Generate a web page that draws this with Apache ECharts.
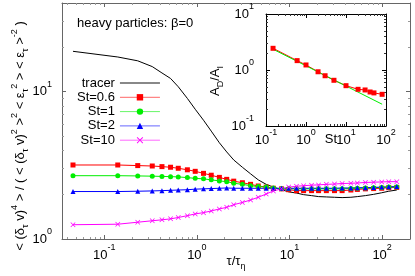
<!DOCTYPE html>
<html><head><meta charset="utf-8">
<script src="https://cdn.jsdelivr.net/npm/echarts@6/dist/echarts.min.js"></script>
<style>html,body{margin:0;padding:0;background:#fff}#c{width:415px;height:276px}</style>
</head><body><div id="c"></div>
<script>
// ---- data ----
const tau = [0.046, 0.14, 0.23, 0.33, 0.42, 0.52, 0.63, 0.79, 0.96, 1.18, 1.43, 1.75, 2.1, 2.5, 3.1, 3.8, 4.6, 5.6, 6.7, 8.2, 9.8, 11.9, 14.2, 17.3, 20.6, 25, 30.6, 37, 46, 54, 66, 81, 99, 118, 144];
const tracer = [18.8, 17.2, 16.2, 14.8, 13.4, 12.3, 10.8, 9.0, 7.6, 6.4, 5.4, 4.5, 3.9, 3.44, 3.07, 2.77, 2.52, 2.35, 2.25, 2.16, 2.09, 2.05, 2.0, 1.97, 1.94, 1.93, 1.92, 1.91, 1.92, 1.94, 1.97, 2.01, 2.06, 2.11, 2.15];
const st06 = [3.18, 3.18, 3.15, 3.13, 3.10, 3.07, 3.02, 2.95, 2.88, 2.79, 2.71, 2.62, 2.54, 2.47, 2.41, 2.35, 2.29, 2.25, 2.21, 2.19, 2.16, 2.13, 2.13, 2.13, 2.13, 2.13, 2.13, 2.13, 2.15, 2.17, 2.19, 2.20, 2.21, 2.23, 2.24];
const st1 = [2.69, 2.69, 2.68, 2.67, 2.66, 2.65, 2.64, 2.61, 2.58, 2.56, 2.52, 2.48, 2.45, 2.39, 2.35, 2.30, 2.27, 2.25, 2.22, 2.19, 2.19, 2.19, 2.19, 2.19, 2.19, 2.19, 2.19, 2.19, 2.20, 2.21, 2.22, 2.23, 2.24, 2.25, 2.25];
const st2 = [2.10, 2.10, 2.11, 2.12, 2.13, 2.14, 2.15, 2.16, 2.18, 2.19, 2.20, 2.21, 2.22, 2.21, 2.21, 2.21, 2.21, 2.21, 2.21, 2.21, 2.21, 2.21, 2.21, 2.21, 2.21, 2.21, 2.21, 2.22, 2.22, 2.23, 2.23, 2.24, 2.25, 2.26, 2.27];
const st10 = [1.25, 1.26, 1.30, 1.33, 1.35, 1.37, 1.40, 1.44, 1.48, 1.51, 1.55, 1.60, 1.64, 1.71, 1.77, 1.84, 1.92, 2.02, 2.12, 2.19, 2.25, 2.28, 2.30, 2.32, 2.33, 2.35, 2.36, 2.38, 2.39, 2.40, 2.42, 2.43, 2.44, 2.45, 2.45];

const insetSt = [0.15, 0.6, 1, 2, 3, 5, 10, 20, 30, 40, 50, 80];
const insetAD = [2.44, 1.47, 1.23, 0.93, 0.79, 0.655, 0.525, 0.452, 0.44, 0.405, 0.39, 0.368];
const fitSt = [0.15, 80];
const fitAD = [2.35, 0.245];

// tick values
const mainXTicks = [0.1, 1, 10, 100];
const mainYTicks = [1, 10];
const mainXMinor = [0.04,0.05,0.06,0.07,0.08,0.09,0.2,0.3,0.4,0.5,0.6,0.7,0.8,0.9,2,3,4,5,6,7,8,9,20,30,40,50,60,70,80,90];
const mainYMinor = [2,3,4,5,6,7,8,9,20,30];
const insetXTicks = [0.1, 1, 10, 100];
const insetYTicks = [0.1, 1, 10];
const insetXMinor = [0.2,0.3,0.4,0.5,0.6,0.7,0.8,0.9,2,3,4,5,6,7,8,9,20,30,40,50,60,70,80,90];
const insetYMinor = [0.2,0.3,0.4,0.5,0.6,0.7,0.8,0.9,2,3,4,5,6,7,8,9];

const FONT = "'Liberation Sans', Arial, Helvetica, sans-serif";
const labRich = {
  b: {fontSize: 13, fontFamily: FONT, color: '#000', lineHeight: 24},
  s: {fontSize: 9, fontFamily: FONT, color: '#000', lineHeight: 9, verticalAlign: 'top'}
};
function powLabel(v) { const e = Math.round(Math.log10(v)); return '{b|10}{s|' + e + '}'; }

function axis(grid, pos, min, max, o) {
  const a = {
    type: 'log', gridIndex: grid, position: pos, min: min, max: max,
    splitLine: {show: false},
    axisLine: {show: !!o.line, onZero: false, lineStyle: {color: o.color, width: 1}},
    axisTick: {show: true, inside: true, length: o.len, customValues: o.ticks, lineStyle: {color: o.color, width: 1}},
    axisLabel: o.labels ? {show: true, customValues: o.ticks, formatter: powLabel, rich: labRich, margin: o.margin} : {show: false}
  };
  return Object.assign(a, o.extra || {});
}

const mainC = '#666', insetC = '#000';
const xAxes = [
  axis(0, 'bottom', 0.035, 200, {line: true, color: mainC, len: 4, ticks: mainXTicks, labels: true, margin: 4,
    extra: {name: '{n|τ/τ}{sub|η}', nameLocation: 'middle', nameGap: 12, nameMoveOverlap: false,
      nameTextStyle: {rich: {n: {fontSize: 13, fontFamily: FONT, color: '#000', lineHeight: 20},
                             sub: {fontSize: 9, fontFamily: FONT, color: '#000', lineHeight: 9, verticalAlign: 'bottom'}}}}}),
  axis(0, 'top', 0.035, 200, {line: true, color: mainC, len: 4, ticks: mainXTicks}),
  axis(0, 'bottom', 0.035, 200, {color: '#999', len: 2, ticks: mainXMinor}),
  axis(0, 'top', 0.035, 200, {color: '#999', len: 2, ticks: mainXMinor}),
  axis(1, 'bottom', 0.1, 100, {line: true, color: insetC, len: 4, ticks: insetXTicks, labels: true, margin: 2,
    extra: {name: 'St', nameLocation: 'middle', nameGap: 7, nameMoveOverlap: false,
      nameTextStyle: {fontSize: 13, fontFamily: FONT, color: '#000', padding: [0, 0, 0, 10]}}}),
  axis(1, 'top', 0.1, 100, {line: true, color: insetC, len: 4, ticks: insetXTicks}),
  axis(1, 'bottom', 0.1, 100, {color: '#333', len: 2, ticks: insetXMinor}),
  axis(1, 'top', 0.1, 100, {color: '#333', len: 2, ticks: insetXMinor})
];
const yAxes = [
  axis(0, 'left', 1, 40, {line: true, color: mainC, len: 4, ticks: mainYTicks, labels: true, margin: 10}),
  axis(0, 'right', 1, 40, {line: true, color: mainC, len: 4, ticks: mainYTicks}),
  axis(0, 'left', 1, 40, {color: '#999', len: 2, ticks: mainYMinor}),
  axis(0, 'right', 1, 40, {color: '#999', len: 2, ticks: mainYMinor}),
  axis(1, 'left', 0.1, 10, {line: true, color: insetC, len: 4, ticks: insetYTicks, labels: true, margin: 12}),
  axis(1, 'right', 0.1, 10, {line: true, color: insetC, len: 4, ticks: insetYTicks}),
  axis(1, 'left', 0.1, 10, {color: '#333', len: 2, ticks: insetYMinor}),
  axis(1, 'right', 0.1, 10, {color: '#333', len: 2, ticks: insetYMinor})
];

const crossPath = 'path://M0,1L1,0L5,4L9,0L10,1L6,5L10,9L9,10L5,6L1,10L0,9L4,5Z';
function pairs(xs, ys) { return xs.map((x, i) => [x, ys[i]]); }
function mainSeries(name, ys, color, symbol, size) {
  return {
    name: name, type: 'line', xAxisIndex: 0, yAxisIndex: 0, data: pairs(tau, ys),
    symbol: symbol, symbolSize: size, showSymbol: symbol !== 'none',
    lineStyle: {color: color, width: 1}, itemStyle: {color: color}, silent: true
  };
}

const chart = echarts.init(document.getElementById('c'), null, {renderer: 'canvas'});
chart.setOption({
  animation: false,
  backgroundColor: '#fff',
  textStyle: {fontFamily: FONT},
  grid: [
    {left: 62, top: 3, right: 5, bottom: 35, show: false},
    {left: 266, top: 14, width: 120, height: 112, show: true, backgroundColor: '#fff', borderWidth: 0}
  ],
  xAxis: xAxes,
  yAxis: yAxes,
  legend: {
    orient: 'vertical', left: 77, top: 76, padding: 0, itemGap: 0.3,
    itemWidth: 40, itemHeight: 8, align: 'right', selectedMode: false,
    lineStyle: {width: 1, opacity: 0.6},
    textStyle: {fontSize: 13, fontFamily: FONT, color: '#000', lineHeight: 14},
    data: [{name: 'tracer', lineStyle: {color: '#888', width: 2, opacity: 1}, itemStyle: {opacity: 0, color: 'rgba(0,0,0,0)'}},
           'St=0.6', 'St=1', 'St=2', 'St=10']
  },
  graphic: [
    {type: 'text', x: 77, y: 23, silent: true,
     style: {text: 'heavy particles: β=0', font: '13px ' + FONT, fill: '#000', align: 'left', verticalAlign: 'middle'}},
    {type: 'text', x: 20, y: 136, rotation: Math.PI / 2, silent: true,
     style: {
       text: '{n|< (δ}{sub|τ}{n| v)}{sup|4}{n| > / ( < (δ}{sub|τ}{n| v)}{sup|2}{n| >}{sup|2}{n| < ε}{sub|τ}{sup|2}{n| > < ε}{sub|τ}{n| >}{sup|-2}{n| )}',
       align: 'center', verticalAlign: 'middle', fill: '#000', font: '13px ' + FONT,
       rich: {
         n: {fontSize: 13, fontFamily: FONT, fill: '#000', lineHeight: 20},
         sub: {fontSize: 9, fontFamily: FONT, fill: '#000', lineHeight: 9, verticalAlign: 'bottom'},
         sup: {fontSize: 9, fontFamily: FONT, fill: '#000', lineHeight: 9, verticalAlign: 'top'}
       }
     }},
    {type: 'text', x: 215, y: 81, rotation: Math.PI / 2, silent: true,
     style: {
       text: '{n|A}{sub|D}{n|/A}{sub|I}',
       align: 'center', verticalAlign: 'middle', fill: '#000', font: '13px ' + FONT,
       rich: {
         n: {fontSize: 13, fontFamily: FONT, fill: '#000', lineHeight: 20},
         sub: {fontSize: 9, fontFamily: FONT, fill: '#000', lineHeight: 9, verticalAlign: 'bottom'}
       }
     }}
  ],
  series: [
    mainSeries('tracer', tracer, '#000', 'none', 0),
    mainSeries('St=0.6', st06, '#ff0000', 'rect', 5),
    mainSeries('St=1', st1, '#00ee00', 'circle', 5),
    mainSeries('St=2', st2, '#0000ff', 'triangle', 5),
    mainSeries('St=10', st10, '#ff00ff', crossPath, 5),
    {type: 'line', xAxisIndex: 4, yAxisIndex: 4, data: pairs(insetSt, insetAD), symbol: 'rect', symbolSize: 5,
     lineStyle: {color: '#ff0000', width: 1}, itemStyle: {color: '#ff0000'}, silent: true},
    {type: 'line', xAxisIndex: 4, yAxisIndex: 4, data: pairs(fitSt, fitAD), symbol: 'none',
     lineStyle: {color: '#00ee00', width: 1}, silent: true}
  ]
});
</script>
</body></html>
